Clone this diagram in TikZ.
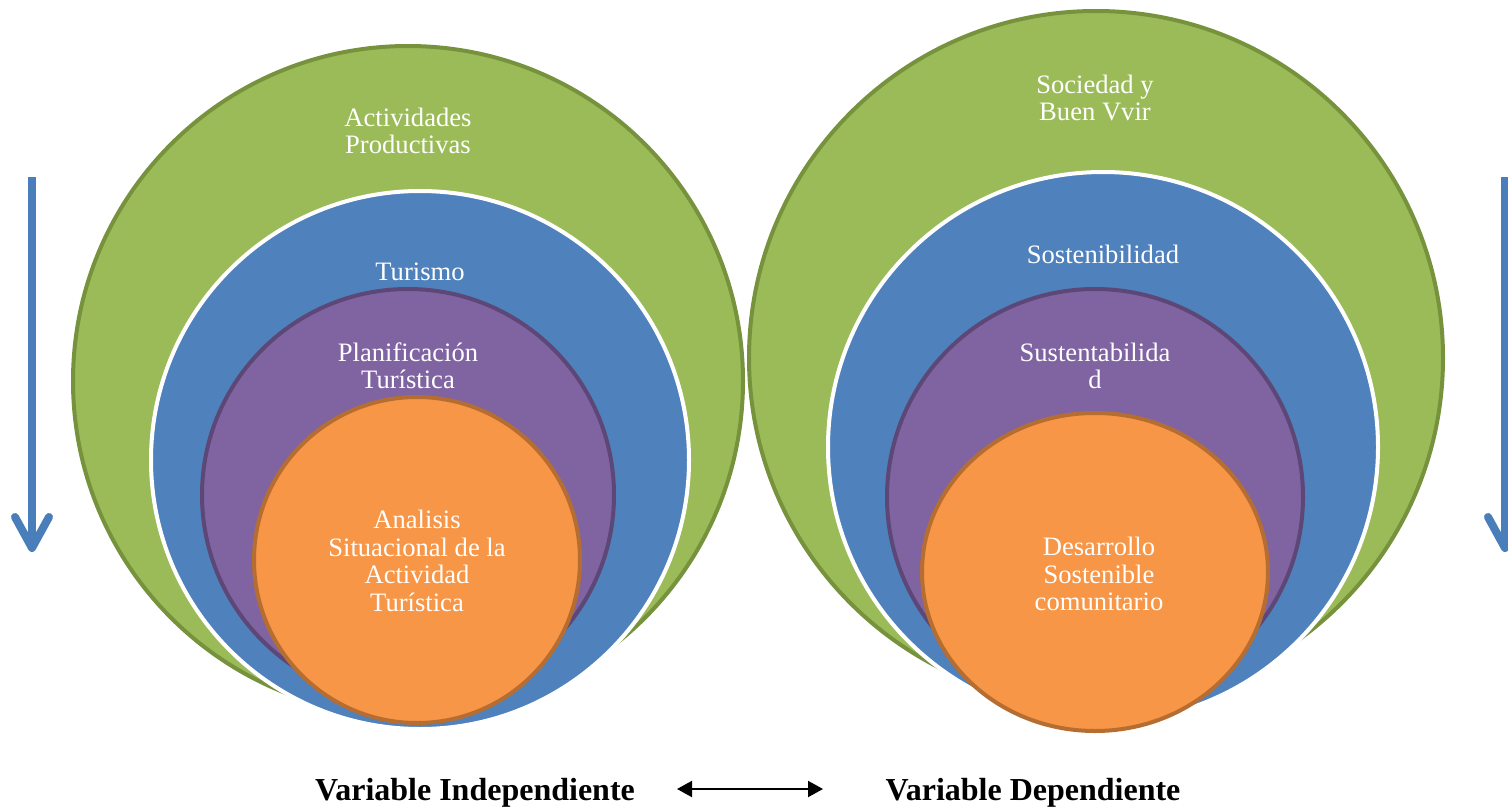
\documentclass[tikz,border=0pt]{standalone}
\usepackage{fontspec}
\setmainfont{Liberation Serif}
\usetikzlibrary{arrows.meta,shapes.geometric,calc}
\definecolor{grnF}{HTML}{9BBB59}
\definecolor{grnD}{HTML}{76923C}
\definecolor{bluF}{HTML}{4F81BD}
\definecolor{purF}{HTML}{8064A2}
\definecolor{purD}{HTML}{5C4776}
\definecolor{orF}{HTML}{F79646}
\definecolor{orD}{HTML}{B66D31}
\definecolor{arB}{HTML}{4A7EBB}
\begin{document}
\begin{tikzpicture}[x=1pt,y=-1pt,
  ring/.style={circle,inner sep=0pt,outer sep=0pt,line width=4pt},
  green/.style={ring,fill=grnF,draw=grnD},
  blue/.style={ring,fill=bluF,draw=white},
  purple/.style={ring,fill=purF,draw=purD},
  orange/.style={ring,fill=orF,draw=orD},
  lbl/.style={text=white,font=\fontsize{26.6}{27.5}\selectfont,align=center,inner sep=0pt},
  varlbl/.style={font=\fontsize{32}{34}\selectfont\bfseries,anchor=base,inner sep=0pt},
  bigarrow/.style={draw=arB,line width=8pt,line cap=round,line join=round},
  shaft/.style={draw=arB,line width=8pt,line cap=butt}]
\useasboundingbox (0,0) rectangle (1508,808);
\clip (0,0) rectangle (1508,808);
% left set
\node[green,minimum size=670pt] (gL) at (408,381) {};
\node[blue,minimum size=538pt] (bL) at (420,460) {};
\node[purple,minimum size=412pt] (pL) at (408,495) {};
\node[orange,minimum size=326pt] (oL) at (417,560) {};
% right set
\node[green,minimum size=694pt] (gR) at (1096,358) {};
\node[blue,minimum size=550pt] (bR) at (1103,447) {};
\node[purple,minimum size=416pt] (pR) at (1095,497) {};
\node[orange,ellipse,minimum width=346pt,minimum height=318pt] (oR) at (1095,572) {};
% labels
\node[lbl] (tgL) at (408,131) {Actividades\\Productivas};
\node[lbl] (tbL) at (420,272) {Turismo};
\node[lbl] (tpL) at (408,366) {Planificación\\Turística};
\node[lbl] (toL) at (417,561) {Analisis\\Situacional de la\\Actividad\\Turística};
\node[lbl] (tgR) at (1095,98) {Sociedad y\\Buen Vvir};
\node[lbl] (tbR) at (1103,254) {Sostenibilidad};
\node[lbl] (tpR) at (1095,366) {Sustentabilida\\d};
\node[lbl] (toR) at (1099,574) {Desarrollo\\Sostenible\\comunitario};
% side arrows
\coordinate (la1) at (32,177);
\coordinate (la2) at (32,548);
\draw[shaft] (la1) -- (la2);
\draw[bigarrow] ($(la2)+(-17,-31)$) -- (la2) -- ($(la2)+(17,-31)$);
\coordinate (ra1) at (1505,177);
\coordinate (ra2) at (1505,548);
\draw[shaft] (ra1) -- (ra2);
\draw[bigarrow] ($(ra2)+(-17,-31)$) -- (ra2) -- ($(ra2)+(17,-31)$);
% bottom
\node[varlbl] (vi) at (475,800) {Variable Independiente};
\node[varlbl] (vd) at (1033,800) {Variable Dependiente};
\coordinate (da1) at (677,789);
\coordinate (da2) at (823,789);
\draw[line width=2pt,{Triangle[length=15pt,width=16pt]}-{Triangle[length=15pt,width=16pt]}] (da1) -- (da2);
\end{tikzpicture}
\end{document}
